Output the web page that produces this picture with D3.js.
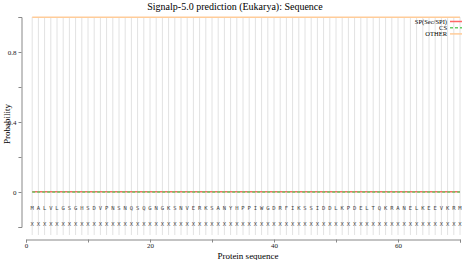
<!DOCTYPE html>
<html>
<head>
<meta charset="utf-8">
<script src="https://cdn.jsdelivr.net/npm/d3@7"></script>
<style>
body { margin: 0; background: white; }
text { font-family: "Liberation Serif", "Times New Roman", serif; }
</style>
</head>
<body>
<svg id="chart"></svg>
<script>
// data
var sequence = "MALVLGSGHSDVPNSNQSQGNGKSNVERKSANYHPPIWGDRFIKSSIDDLKPDELTQKRANELKEEVKRM".split("");
var labels = sequence.map(function() { return "X"; });
var positions = sequence.map(function(d, i) { return i + 1; });
var spProb = sequence.map(function() { return 0.001; });
var csProb = sequence.map(function() { return 0.0; });
var otherProb = sequence.map(function() { return 0.999; });
var seriesNames = ["SP(Sec/SPI)", "CS", "OTHER"];
var seriesColors = ["#ff6666", "#66cc66", "#ffcc99"];
var seriesDash = [null, "3,2", null];
var xTicks = [0, 10, 20, 30, 40, 50, 60, 70];
var yTicks = [-0.2, 0, 0.2, 0.4, 0.6, 0.8, 1.0];

var width = 464, height = 260;
var svg = d3.select("#chart").attr("width", width).attr("height", height);

var x = d3.scaleLinear().domain([0, 70]).range([26, 460]);
var y = d3.scaleLinear().domain([-0.2, 1.0]).range([227, 17]);

// vertical grid at each residue
svg.append("g").selectAll("line")
  .data(positions).enter().append("line")
  .attr("x1", d => x(d)).attr("x2", d => x(d))
  .attr("y1", y(1.0)).attr("y2", 235)
  .attr("stroke", "#e2e2e2").attr("stroke-width", 1);

// y axis
var yAxis = d3.axisLeft(y).tickValues(yTicks)
  .tickSize(3).tickPadding(2)
  .tickFormat(d => (Math.abs(d - 0.4) < 1e-6 || Math.abs(d - 0.8) < 1e-6 || d === 0) ? d3.format("")(+d.toFixed(1)) : "");
var gy = svg.append("g").attr("transform", "translate(21.5,0)").call(yAxis);
gy.select(".domain").attr("stroke", "#888");
gy.selectAll(".tick line").attr("stroke", "#888");
gy.selectAll(".tick text").attr("font-size", 7).attr("fill", "#222");

// x axis
var xAxis = d3.axisBottom(x).tickValues(xTicks).tickSize(3).tickPadding(1)
  .tickFormat(d => (d % 20 === 0 && d < 70) ? d : "");
var gx = svg.append("g").attr("transform", "translate(0,239.5)").call(xAxis);
gx.select(".domain").attr("stroke", "#888");
gx.selectAll(".tick line").attr("stroke", "#888");
gx.selectAll(".tick text").attr("font-size", 7).attr("fill", "#222");

// probability lines
var line = d3.line().x((d, i) => x(positions[i])).y(d => y(d));
var allSeries = [spProb, csProb, otherProb];
svg.append("g").selectAll("path")
  .data(allSeries).enter().append("path")
  .attr("d", line)
  .attr("fill", "none")
  .attr("stroke", (d, i) => seriesColors[i])
  .attr("stroke-width", 1.5)
  .attr("stroke-dasharray", (d, i) => seriesDash[i]);

// residues and labels
svg.append("g").selectAll("text")
  .data(sequence).enter().append("text")
  .attr("x", (d, i) => x(positions[i])).attr("y", 210)
  .attr("text-anchor", "middle")
  .style("font-family", "DejaVu Sans Mono")
  .style("fill", "#444")
  .attr("font-size", 5.5)
  .text(d => d);
svg.append("g").selectAll("text")
  .data(labels).enter().append("text")
  .attr("x", (d, i) => x(positions[i])).attr("y", 226)
  .attr("text-anchor", "middle")
  .style("font-family", "DejaVu Sans Mono")
  .style("fill", "#444")
  .attr("font-size", 5.5)
  .text(d => d);

// title and axis titles
svg.append("text").attr("x", 235).attr("y", 10).attr("text-anchor", "middle")
  .attr("font-size", 10).text("Signalp-5.0 prediction (Eukarya): Sequence");
svg.append("text").attr("x", 248).attr("y", 259).attr("text-anchor", "middle")
  .attr("font-size", 9).text("Protein sequence");
svg.append("text").attr("transform", "translate(10,124) rotate(-90)")
  .attr("text-anchor", "middle").attr("font-size", 9).text("Probability");

// legend
var legend = svg.append("g").selectAll("g")
  .data(seriesNames).enter().append("g")
  .attr("transform", (d, i) => "translate(0," + (21.5 + i * 6.2) + ")");
legend.append("text").attr("x", 447).attr("y", 2)
  .attr("text-anchor", "end").attr("font-size", 6.5).text(d => d);
legend.append("line").attr("x1", 450).attr("x2", 462).attr("y1", 0).attr("y2", 0)
  .attr("stroke", (d, i) => seriesColors[i]).attr("stroke-width", 1.5)
  .attr("stroke-dasharray", (d, i) => seriesDash[i]);
</script>
</body>
</html>
